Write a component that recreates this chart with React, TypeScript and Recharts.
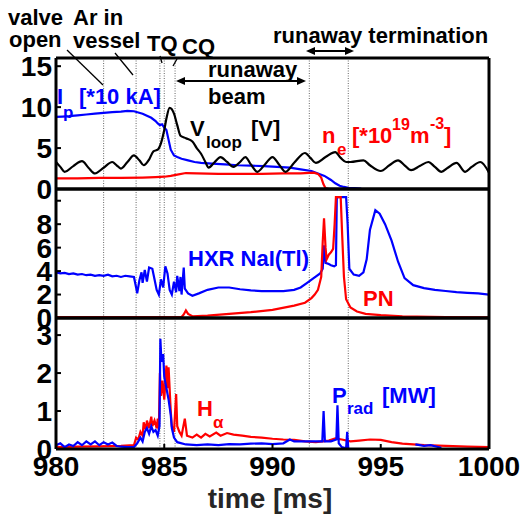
import { LineChart, Line, XAxis, YAxis, ReferenceLine } from "recharts";

const W = 529;
const H = 519;
const FONT = "'Liberation Sans', Arial, Helvetica, sans-serif";
const BLUE = "#0000ff";
const RED = "#ff0000";

// time axis
const X_TICKS = [980, 985, 990, 995, 1000];
const EVENT_TIMES = [982.2, 983.7, 984.8, 985.0, 985.5, 991.7, 993.5];

// panel 1: Ip [*10 kA], Vloop [V], ne [*1e19 m^-3]
const ipT = [980, 980.3, 980.6, 981, 981.4, 981.8, 982.2, 982.6, 983.0, 983.3, 983.6, 984.0, 984.2, 984.4, 984.6, 984.7, 984.8, 984.9, 985.0, 985.1, 985.2, 985.3, 985.45, 985.6, 985.8, 986.1, 986.4, 986.7, 987.2, 987.8, 988.4, 989.0, 989.6, 990.2, 990.8, 991.3, 991.8, 992.1, 992.4, 992.7, 992.9, 993.1, 993.3, 993.5, 993.8, 994.1];
const ipV = [8.8, 8.85, 8.9, 9.0, 9.1, 9.2, 9.3, 9.4, 9.45, 9.55, 9.5, 9.2, 8.95, 8.7, 8.3, 8.0, 7.8, 7.9, 7.5, 7.2, 6.0, 4.8, 4.1, 3.9, 3.7, 3.5, 3.3, 3.2, 3.1, 3.0, 2.9, 2.85, 2.8, 2.7, 2.6, 2.4, 2.2, 1.9, 1.6, 1.1, 0.7, 0.4, 0.25, 0.15, 0.1, 0.05];

const vloopT = [980.0, 980.2, 980.4, 980.8, 981.2, 981.5, 981.8, 982.2, 982.6, 982.8, 983.0, 983.3, 983.6, 983.85, 984.05, 984.3, 984.5, 984.7, 984.85, 985.0, 985.1, 985.25, 985.45, 985.6, 985.75, 986.0, 986.3, 986.5, 986.7, 986.9, 987.05, 987.3, 987.6, 987.9, 988.2, 988.5, 988.75, 989.0, 989.3, 989.65, 990.0, 990.3, 990.6, 991.0, 991.5, 991.75, 992.0, 992.45, 992.9, 993.15, 993.4, 993.6, 994.2, 994.5, 995.0, 995.4, 995.8, 996.1, 996.4, 996.8, 997.2, 997.5, 997.8, 998.1, 998.5, 998.9, 999.2, 999.6, 1000];
const vloopV = [3.3, 2.7, 2.1, 2.8, 3.4, 2.6, 1.9, 2.6, 3.3, 2.9, 2.5, 3.3, 4.1, 3.5, 2.9, 3.6, 4.6, 4.8, 5.6, 7.2, 8.6, 9.9, 9.2, 7.8, 6.5, 6.2, 5.8, 5.0, 4.3, 3.3, 2.6, 3.2, 3.9, 3.3, 2.7, 3.3, 3.9, 3.0, 2.1, 3.0, 3.9, 3.0, 2.1, 3.2, 4.4, 3.8, 3.2, 3.9, 4.5, 3.8, 3.3, 3.3, 3.5, 2.9, 2.2, 2.9, 3.5, 2.9, 2.3, 2.8, 3.3, 2.7, 2.1, 2.6, 3.2, 2.1, 2.7, 3.3, 2.0];

const neT = [980, 981, 982, 983, 984, 984.6, 985.0, 985.3, 985.6, 986.0, 986.5, 987.5, 988.5, 989.5, 990.5, 991.3, 991.9, 992.1, 992.25, 992.35, 992.45, 992.6];
const neV = [1.3, 1.3, 1.35, 1.35, 1.4, 1.45, 1.5, 1.6, 1.75, 1.95, 1.9, 1.85, 1.85, 1.85, 1.9, 1.9, 2.0, 1.85, 1.4, 0.6, 0.1, 0.0];

// panel 2: HXR NaI(Tl), PN
const hxrT = [980.0, 980.2, 980.4, 980.6, 980.8, 981.0, 981.2, 981.4, 981.6, 981.8, 982.0, 982.2, 982.4, 982.6, 982.8, 983.0, 983.2, 983.4, 983.6, 983.7, 983.75, 983.85, 983.95, 984.0, 984.1, 984.2, 984.3, 984.45, 984.55, 984.65, 984.75, 984.85, 984.95, 985.05, 985.15, 985.25, 985.35, 985.45, 985.55, 985.6, 985.7, 985.75, 985.8, 985.9, 985.95, 986.1, 986.3, 986.6, 987.0, 987.5, 988.0, 988.5, 989.0, 989.5, 990.0, 990.5, 991.0, 991.3, 991.6, 991.9, 992.2, 992.32, 992.38, 992.45, 992.6, 992.7, 992.85, 992.93, 992.97, 993.4, 993.47, 993.55, 993.75, 994.0, 994.2, 994.35, 994.5, 994.75, 994.95, 995.2, 995.5, 995.8, 996.1, 996.5, 997.0, 997.5, 998.0, 998.5, 999.0, 999.5, 1000];
const hxrV = [3.9, 3.8, 3.85, 3.75, 3.8, 3.7, 3.75, 3.65, 3.7, 3.6, 3.65, 3.6, 3.7, 3.55, 3.6, 3.5, 3.6, 3.55, 3.5, 2.6, 2.1, 3.2, 3.9, 3.0, 4.1, 3.1, 4.3, 4.2, 3.3, 2.4, 2.0, 3.3, 2.6, 4.4, 3.8, 2.4, 2.0, 3.1, 2.2, 3.6, 2.3, 3.5, 2.0, 4.3, 2.5, 2.1, 1.9, 2.1, 2.4, 2.6, 2.6, 2.45, 2.35, 2.3, 2.3, 2.3, 2.4, 2.6, 3.0, 3.4, 3.8, 4.2, 6.2, 4.7, 4.6, 4.5, 4.4, 4.5, 10.3, 10.3, 8.0, 4.2, 3.7, 3.6, 3.9, 5.0, 7.5, 9.2, 8.9, 8.0, 6.6, 4.8, 3.4, 2.8, 2.55, 2.4, 2.3, 2.2, 2.15, 2.1, 2.0];

const pnT = [980, 985.8, 985.9, 986.0, 986.1, 986.3, 987.0, 988.0, 989.0, 990.0, 991.0, 991.5, 991.8, 991.95, 992.1, 992.25, 992.32, 992.38, 992.45, 992.5, 992.6, 992.7, 992.8, 992.87, 992.93, 993.15, 993.22, 993.3, 993.4, 993.6, 993.9, 994.3, 995.0, 996.0, 998.0, 1000];
const pnV = [0.08, 0.08, 0.3, 0.65, 0.35, 0.15, 0.2, 0.35, 0.5, 0.7, 1.05, 1.3, 1.7, 2.0, 2.4, 3.5, 6.5, 8.5, 6.0, 5.0, 5.4, 5.6, 5.9, 8.0, 10.3, 10.3, 7.0, 3.5, 1.6, 0.9, 0.55, 0.35, 0.25, 0.15, 0.08, 0.06];

// panel 3: Prad [MW], H-alpha
const pradT = [980.0, 980.2, 980.4, 980.6, 980.8, 981.0, 981.2, 981.4, 981.6, 981.8, 982.0, 982.2, 982.4, 982.6, 982.8, 983.0, 983.3, 983.6, 983.75, 983.9, 984.0, 984.1, 984.2, 984.3, 984.4, 984.5, 984.6, 984.7, 984.78, 984.82, 984.87, 984.95, 985.0, 985.1, 985.2, 985.3, 985.35, 985.45, 985.6, 986.0, 986.5, 987.0, 987.5, 988.0, 988.5, 989.0, 989.5, 990.0, 990.5, 990.8, 991.0, 991.5, 992.0, 992.3, 992.36, 992.42, 992.7, 992.95, 993.0, 993.06, 993.2, 993.4, 993.45, 993.5, 994.0, 996.6, 996.8, 997.0, 997.3, 997.6, 997.8];
const pradV: (number | null)[] = [0.1, 0.15, 0.05, 0.12, 0.08, 0.18, 0.1, 0.2, 0.12, 0.2, 0.1, 0.18, 0.12, 0.17, 0.08, 0.06, 0.05, 0.05, 0.15, 0.3, 0.2, 0.45, 0.55, 0.4, 0.6, 0.45, 0.5, 0.35, 0.6, 2.9, 2.3, 2.5, 1.9, 1.6, 1.3, 0.9, 0.55, 0.3, 0.18, 0.12, 0.1, 0.12, 0.1, 0.13, 0.12, 0.14, 0.15, 0.13, 0.15, 0.25, 0.2, 0.2, 0.2, 0.2, 1.0, 0.2, 0.2, 0.25, 1.15, 0.15, 0.05, 0.02, 0.45, 0.02, null, 0.12, 0.1, 0.08, 0.1, 0.06, 0.03];

const haT = [980.0, 981, 982, 983, 983.6, 983.7, 983.8, 983.9, 984.0, 984.05, 984.15, 984.2, 984.3, 984.4, 984.45, 984.55, 984.65, 984.7, 984.75, 984.8, 984.85, 984.92, 985.0, 985.1, 985.15, 985.2, 985.3, 985.35, 985.45, 985.55, 985.6, 985.7, 985.8, 985.95, 986.05, 986.3, 986.5, 986.7, 986.9, 987.1, 987.4, 987.6, 987.9, 988.2, 988.6, 989.0, 989.5, 990.0, 990.5, 991.0, 991.5, 992.0, 992.3, 992.6, 992.9, 993.2, 993.6, 994.0, 994.5, 995.0, 995.5, 996.0, 996.5, 997.0, 998.0, 999.0, 1000];
const haV = [0.05, 0.06, 0.07, 0.08, 0.1, 0.3, 0.25, 0.45, 0.35, 0.7, 0.5, 0.75, 0.55, 0.85, 0.6, 0.75, 0.55, 0.8, 0.5, 2.0, 1.4, 1.8, 1.3, 2.2, 1.6, 2.15, 1.0, 0.6, 0.45, 1.45, 0.6, 0.45, 0.35, 0.8, 0.35, 0.3, 0.38, 0.3, 0.4, 0.33, 0.43, 0.35, 0.42, 0.38, 0.35, 0.32, 0.3, 0.27, 0.25, 0.24, 0.2, 0.18, 0.2, 0.22, 0.28, 0.25, 0.2, 0.22, 0.25, 0.24, 0.18, 0.14, 0.12, 0.1, 0.08, 0.06, 0.05];

type Row = { t: number; v: number | null };
const rows = (t: number[], v: (number | null)[]): Row[] => t.map((x, i) => ({ t: x, v: v[i] }));

type Series = { data: Row[]; color: string; smooth?: boolean };

const tickStyle = { fill: "#000", fontSize: 28, fontWeight: 700, fontFamily: FONT };
const axisLine = { stroke: "#000", strokeWidth: 3 };
const tickLine = { stroke: "#000", strokeWidth: 2 };

function Panel({
  top,
  bottom,
  yMax,
  yTicks,
  hideTop,
  xLabels,
  series,
}: {
  top: number;
  bottom: number;
  yMax: number;
  yTicks: number[];
  hideTop?: boolean;
  xLabels?: boolean;
  series: Series[];
}) {
  const bottomH = xLabels ? 60 : 2;
  return (
    <div style={{ position: "absolute", left: 0, top: 0 }}>
      <LineChart
        width={W}
        height={H}
        margin={{ top: top - 2, bottom: H - bottom - bottomH, left: 6, right: W - 489 - 2 }}
      >
        <XAxis
          xAxisId="b"
          type="number"
          dataKey="t"
          domain={[980, 1000]}
          ticks={X_TICKS}
          interval={0}
          orientation="bottom"
          height={bottomH}
          tickSize={-5}
          tickMargin={12}
          axisLine={axisLine}
          tickLine={tickLine}
          tick={xLabels ? tickStyle : false}
          allowDataOverflow
        />
        <XAxis
          xAxisId="t"
          type="number"
          dataKey="t"
          domain={[980, 1000]}
          ticks={X_TICKS}
          orientation="top"
          height={2}
          tickSize={-5}
          axisLine={axisLine}
          tickLine={tickLine}
          tick={false}
          allowDataOverflow
        />
        <YAxis
          yAxisId="l"
          type="number"
          domain={[0, yMax]}
          ticks={yTicks}
          interval={0}
          orientation="left"
          width={50}
          tickSize={-5}
          tickMargin={9}
          axisLine={axisLine}
          tickLine={tickLine}
          tick={tickStyle}
          tickFormatter={(v: number) => (hideTop && v === yTicks[yTicks.length - 1] ? "" : String(v))}
          allowDataOverflow
        />
        <YAxis
          yAxisId="r"
          type="number"
          domain={[0, yMax]}
          ticks={yTicks}
          orientation="right"
          width={2}
          tickSize={-5}
          axisLine={axisLine}
          tickLine={tickLine}
          tick={false}
          allowDataOverflow
        />
        {EVENT_TIMES.map((t) => (
          <ReferenceLine
            key={t}
            x={t}
            xAxisId="b"
            yAxisId="l"
            stroke="#666"
            strokeWidth={1}
            strokeDasharray="1 1.5"
          />
        ))}
        {series.map((s, i) => (
          <Line
            key={i}
            data={s.data}
            dataKey="v"
            xAxisId="b"
            yAxisId="l"
            type={s.smooth ? "monotone" : "linear"}
            stroke={s.color}
            strokeWidth={2.2}
            dot={false}
            activeDot={false}
            isAnimationActive={false}
          />
        ))}
      </LineChart>
    </div>
  );
}

function Arrow({ x1, x2, y }: { x1: number; x2: number; y: number }) {
  return (
    <g>
      <line x1={x1 + 4} x2={x2 - 4} y1={y} y2={y} stroke="#000" strokeWidth={2} />
      <polygon points={`${x1},${y} ${x1 + 9},${y - 4} ${x1 + 9},${y + 4}`} fill="#000" />
      <polygon points={`${x2},${y} ${x2 - 9},${y - 4} ${x2 - 9},${y + 4}`} fill="#000" />
    </g>
  );
}

function Annotations() {
  const t = { fontFamily: FONT, fontWeight: 700, fontSize: 22 };
  return (
    <svg
      width={W}
      height={H}
      style={{ position: "absolute", left: 0, top: 0, pointerEvents: "none" }}
    >
      <g style={t} fill="#000">
        <text x={8} y={25}>valve</text>
        <text x={73} y={25}>Ar in</text>
        <text x={9} y={47}>open</text>
        <text x={73} y={48}>vessel</text>
        <text x={147} y={51}>TQ</text>
        <text x={182} y={54}>CQ</text>
        <text x={273} y={43}>runaway termination</text>
        <text x={208} y={77}>runaway</text>
        <text x={208} y={104}>beam</text>
      </g>
      <g stroke="#000" strokeWidth={1.3}>
        <line x1={67} y1={50} x2={103} y2={85} />
        <line x1={115} y1={53} x2={133} y2={75} />
        <line x1={160} y1={56} x2={162} y2={63} />
        <line x1={177} y1={59} x2={173} y2={66} />
      </g>
      <Arrow x1={306} x2={354} y={51} />
      <Arrow x1={176} x2={306} y={81} />

      <g style={t} fill={BLUE}>
        <text x={57} y={104}>I</text>
        <text x={63} y={118} fontSize={17}>p</text>
        <text x={79} y={104}>[*10 kA]</text>
      </g>
      <g style={t} fill="#000">
        <text x={190} y={136}>V</text>
        <text x={206} y={148} fontSize={17}>loop</text>
        <text x={251} y={136}>[V]</text>
      </g>
      <g style={t} fill={RED}>
        <text x={322} y={143}>n</text>
        <text x={337} y={155} fontSize={17}>e</text>
        <text x={352} y={143}>[*10</text>
        <text x={392} y={130} fontSize={16}>19</text>
        <text x={410} y={143}>m</text>
        <text x={430} y={129} fontSize={16}>-3</text>
        <text x={444} y={143}>]</text>
      </g>

      <g style={t} fill={BLUE}>
        <text x={188} y={266}>HXR NaI(Tl)</text>
      </g>
      <g style={t} fill={RED}>
        <text x={363} y={306}>PN</text>
      </g>

      <g style={t} fill={RED}>
        <text x={197} y={416}>H</text>
        <text x={213} y={428} fontSize={17}>α</text>
      </g>
      <g style={t} fill={BLUE}>
        <text x={332} y={403}>P</text>
        <text x={347} y={414} fontSize={17}>rad</text>
        <text x={382} y={403}>[MW]</text>
      </g>

      <text x={270} y={508} textAnchor="middle" style={{ fontFamily: FONT, fontWeight: 700, fontSize: 28 }} fill="#262626">
        time [ms]
      </text>
    </svg>
  );
}

export default function App() {
  return (
    <div style={{ position: "absolute", left: 0, top: 0, width: W, height: H, background: "#fff", overflow: "hidden" }}>
      <Panel
        top={58}
        bottom={189}
        yMax={16}
        yTicks={[0, 5, 10, 15]}
        series={[
          { data: rows(ipT, ipV), color: BLUE },
          { data: rows(neT, neV), color: RED },
          { data: rows(vloopT, vloopV), color: "#000", smooth: true },
        ]}
      />
      <Panel
        top={189}
        bottom={318}
        yMax={11}
        yTicks={[0, 2, 4, 6, 8, 10]}
        hideTop
        series={[
          { data: rows(hxrT, hxrV), color: BLUE },
          { data: rows(pnT, pnV), color: RED },
        ]}
      />
      <Panel
        top={318}
        bottom={449}
        yMax={3.45}
        yTicks={[0, 1, 2, 3]}
        xLabels
        series={[
          { data: rows(haT, haV), color: RED },
          { data: rows(pradT, pradV), color: BLUE },
        ]}
      />
      <Annotations />
    </div>
  );
}
